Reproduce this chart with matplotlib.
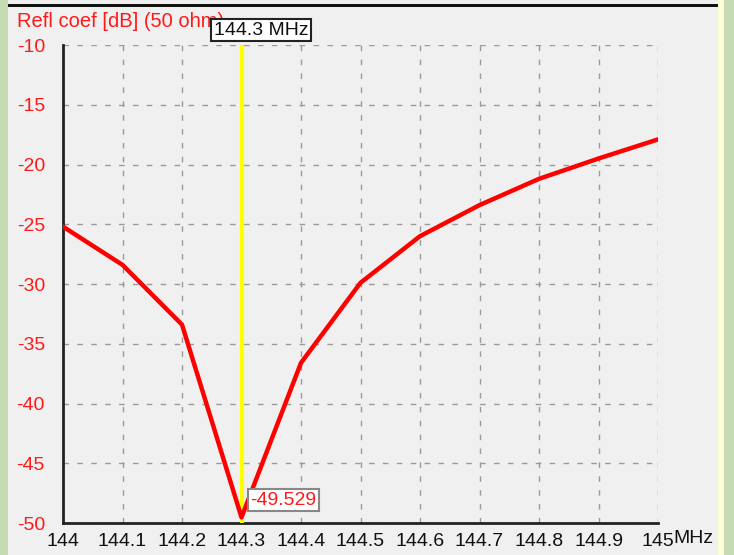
import matplotlib
matplotlib.use("Agg")
import matplotlib.pyplot as plt
from matplotlib.patches import Rectangle
import numpy as np

# sweep: reflection coefficient vs frequency
freq = [144.0, 144.1, 144.2, 144.3, 144.4, 144.5, 144.6, 144.7, 144.8, 144.9, 145.0]
refl_db = [-25.2, -28.4, -33.4, -49.529, -36.6, -29.9, -26.0, -23.4, -21.2, -19.5, -17.9]
x_ticks = [144.0, 144.1, 144.2, 144.3, 144.4, 144.5, 144.6, 144.7, 144.8, 144.9, 145.0]
x_labels = ["144", "144.1", "144.2", "144.3", "144.4", "144.5", "144.6", "144.7", "144.8", "144.9", "145"]
y_ticks = [-50, -45, -40, -35, -30, -25, -20, -15, -10]
marker_f = 144.3
marker_db = -49.529

plt.rcParams['font.family'] = ['Liberation Sans', 'DejaVu Sans']
plt.rcParams['axes.unicode_minus'] = False

W, H = 734, 555
fig = plt.figure(figsize=(W / 100, H / 100), dpi=100)
fig.patch.set_facecolor('#c6dbb2')

# window panel, black top edge and yellow strip on the right
bg = fig.add_axes([0, 0, 1, 1], zorder=-5)
bg.set_xlim(0, W)
bg.set_ylim(H, 0)
bg.axis('off')
bg.add_patch(Rectangle((8, 0), 710, H, facecolor='#f0f0f0', edgecolor='none'))
bg.add_patch(Rectangle((718, 0), 6, H, facecolor='#ffffd6', edgecolor='none'))
bg.add_patch(Rectangle((8, 4), 710, 3, facecolor='#111111', edgecolor='none'))

ax = fig.add_axes([63 / W, (H - 523) / H, 595 / W, 478 / H], zorder=2)
ax.set_facecolor('none')
ax.set_xlim(144, 145)
ax.set_ylim(-50, -10)

ax.set_xticks(x_ticks)
ax.set_xticklabels(x_labels)
ax.set_yticks(y_ticks)
ax.tick_params(axis='both', length=0, labelsize=14)
ax.tick_params(axis='x', pad=7, colors='#111111')
ax.tick_params(axis='y', pad=13, labelcolor='#ff1a1a')

ax.grid(True, color='#9a9a9a', linestyle=(0, (4, 6)), linewidth=1.0)
ax.set_axisbelow(True)
for s in ['top', 'right']:
    ax.spines[s].set_visible(False)
for s in ['left', 'bottom']:
    ax.spines[s].set_color('#222222')
    ax.spines[s].set_linewidth(2)

# marker line
ax.axvline(marker_f, color='#ffff00', linewidth=3, zorder=3)
ax.plot(freq, refl_db, color='#ff0000', linewidth=3.2, zorder=4, solid_joinstyle='round')

ax.text(-0.077, 1.05, "Refl coef [dB] (50 ohm)", transform=ax.transAxes,
        color='#ff1a1a', fontsize=14.5, ha='left', va='center', zorder=5)
ax.text(marker_f - 0.047, -8.75, "144.3 MHz", color='#111111', fontsize=14,
        ha='left', va='center', clip_on=False, zorder=6,
        bbox=dict(boxstyle='square,pad=0.15', facecolor='white', edgecolor='#222222', linewidth=1.5))
ax.text(marker_f + 0.015, marker_db + 1.45, f"{marker_db:.3f}", color='#ff1a1a', fontsize=14,
        ha='left', va='center', zorder=6,
        bbox=dict(boxstyle='square,pad=0.15', facecolor='white', edgecolor='#888888', linewidth=1.5))
ax.text(1.026, -0.015, "MHz", transform=ax.transAxes, color='#111111', fontsize=14,
        ha='left', va='top')

fig.savefig("out.png", dpi=100, facecolor=fig.get_facecolor())
